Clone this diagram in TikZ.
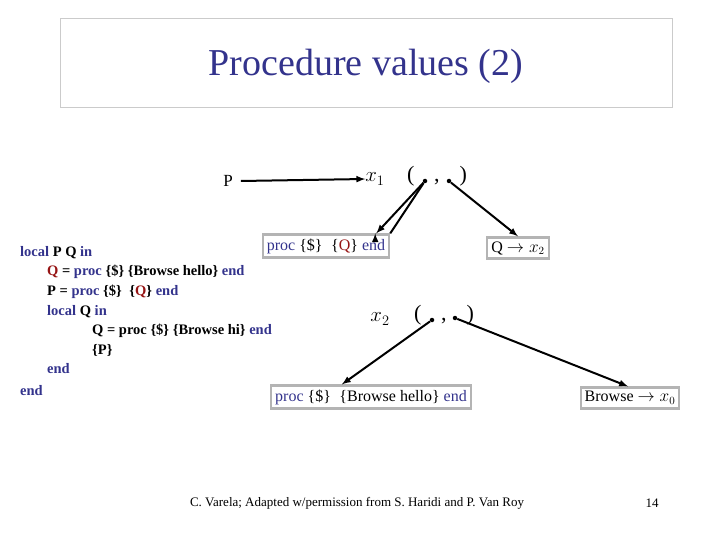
\documentclass[tikz,border=0pt]{standalone}
\usepackage{fontspec}
\setmainfont{Liberation Serif}
\definecolor{kw}{RGB}{51,51,140}
\definecolor{rq}{RGB}{150,20,20}
\definecolor{bx}{RGB}{180,180,180}
\begin{document}
\begin{tikzpicture}[x=1pt,y=-1pt,
  box/.style={draw=bx,line width=2.2pt,inner sep=4pt},
  lbl/.style={inner sep=0pt,font=\fontsize{17}{20}\selectfont},
  code/.style={anchor=west,inner sep=0pt,font=\fontsize{14.5}{16}\selectfont\bfseries},
  arr/.style={-latex,line width=2pt},
  dot/.style={circle,fill,inner sep=0pt,minimum size=4.5pt}]
\useasboundingbox (0,0) rectangle (720,540);
\node[draw=bx!70,line width=0.8pt,minimum width=612,minimum height=89,anchor=north west] (tb) at (60,18) {};
\node[text=kw,font=\fontsize{38}{42}\selectfont] (title) at (366,66) {Procedure values (2)};
% top row
\node[lbl] (P) at (228,181) {P};
\node[lbl,font=\fontsize{22}{24}\selectfont] (x1) at (375,179) {$x_1$};
\node[lbl,font=\fontsize{22}{24}\selectfont] (t1) at (437,176) {(\hspace{0.9em},\hspace{0.9em})};
\node[dot] (d1) at (425,181) {};
\node[dot] (d2) at (449,181) {};
\draw[arr] (P.east)++(8,0) coordinate (ps) -- (x1.west);
\node[box,font=\fontsize{16}{18}\selectfont] (b1) at (326,246) {\textcolor{kw}{proc} \{\$\}\; \{\textcolor{rq}{Q}\} \textcolor{kw}{end}};
\node[box,font=\fontsize{16}{18}\selectfont] (b2) at (518,248) {Q $\rightarrow x_2$};
\draw[arr] (d1) -- (b1.north east) ++(-15,0);
\draw[arr] (d1) -- ([xshift=-14pt]b1.north east);
\draw[arr] (d2) -- (b2.north);
% second row
\node[lbl,font=\fontsize{22}{24}\selectfont] (x2) at (380,319) {$x_2$};
\node[lbl,font=\fontsize{22}{24}\selectfont] (t2) at (444,315) {(\hspace{0.9em},\hspace{0.9em})};
\node[dot] (d3) at (432,320) {};
\node[dot] (d4) at (455,318) {};
\node[box,font=\fontsize{16}{18}\selectfont] (b3) at (371,397) {\textcolor{kw}{proc} \{\$\}\; \{Browse hello\} \textcolor{kw}{end}};
\node[box,font=\fontsize{16}{18}\selectfont] (b4) at (630,398) {Browse $\rightarrow x_0$};
\draw[arr] (d3) -- ([xshift=-130pt]b3.north east);
\draw[arr] (d4) -- ([xshift=-2pt]b4.north);
% code
\node[code,text=kw] (c1) at (20,253) {local \textcolor{black}{P Q} in};
\node[code] (c2) at (47,272) {\textcolor{rq}{Q} = \textcolor{kw}{proc} \{\$\} \{Browse hello\} \textcolor{kw}{end}};
\node[code] (c3) at (47,292) {P = \textcolor{kw}{proc} \{\$\}\; \{\textcolor{rq}{Q}\} \textcolor{kw}{end}};
\node[code,text=kw] (c4) at (47,312) {local \textcolor{black}{Q} in};
\node[code] (c5) at (92,331) {Q = proc \{\$\} \{Browse hi\} \textcolor{kw}{end}};
\node[code] (c6) at (92,350) {\{P\}};
\node[code,text=kw] (c7) at (47,369) {end};
\node[code,text=kw] (c8) at (20,391) {end};
% footer
\node[inner sep=0pt,font=\fontsize{13}{15}\selectfont] (f1) at (357,503) {C. Varela; Adapted w/permission from S. Haridi and P. Van Roy};
\node[inner sep=0pt,font=\fontsize{13}{15}\selectfont] (f2) at (652,503) {14};
\end{tikzpicture}
\end{document}
